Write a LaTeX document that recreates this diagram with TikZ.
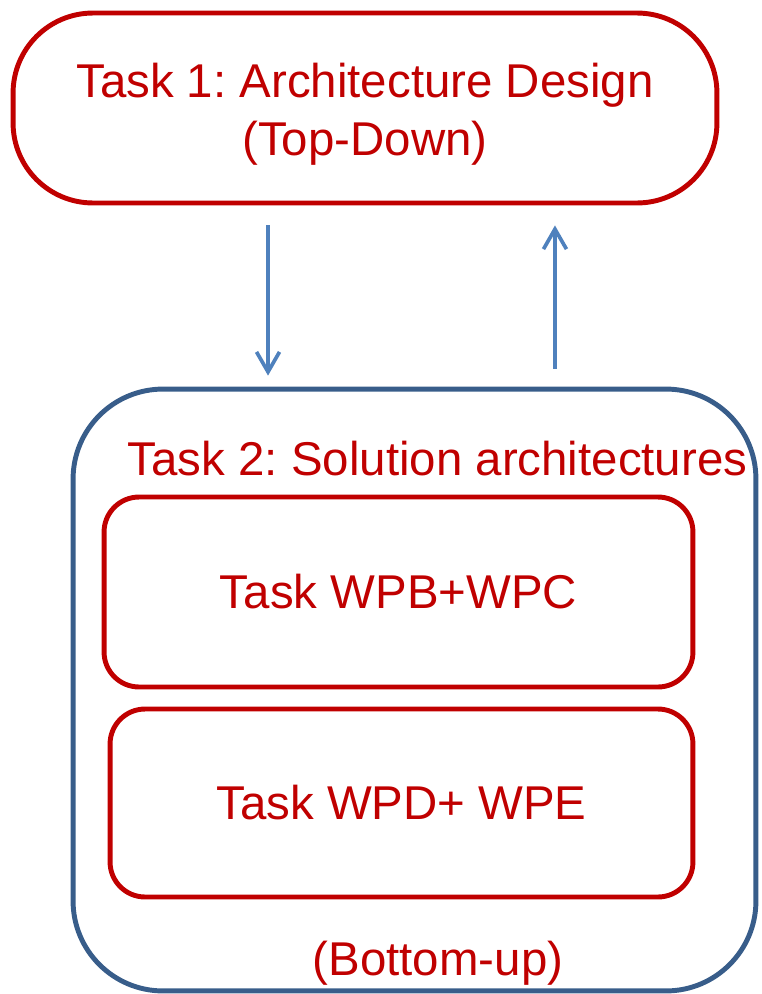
\documentclass[tikz,border=0pt]{standalone}
\usepackage{fontspec}
\setmainfont{Liberation Sans}
\frenchspacing
\usetikzlibrary{shapes,arrows.meta}
\definecolor{taskred}{RGB}{192,0,0}
\definecolor{flowblue}{RGB}{79,129,189}
\definecolor{boxblue}{RGB}{56,93,138}
\tikzstyle{flow} = [draw=flowblue, line width=2.1pt, -{Straight Barb[length=0.4cm,width=0.46cm]}]

\begin{document}
\begin{tikzpicture}
  [x=0.02cm,y=-0.02cm,every node/.style={text=taskred,font=\fontsize{27}{33}\selectfont}]
  \tikzstyle{taskbox} = [draw=taskred, line width=2.8pt, rectangle, align=center]
  \useasboundingbox (0,0) rectangle (761,994);

  % top-down task
  \node (top) [taskbox, rounded corners=1.6cm, minimum width=14.08cm, minimum height=3.8cm]
    at (365,108) {};
  \node (t1) [align=center, anchor=base] at (365,155) {Task 1: Architecture Design\\(Top-Down)};

  % bottom-up container
  \node (outer) [draw=boxblue, line width=2.8pt, rectangle, rounded corners=1.8cm,
    minimum width=13.66cm, minimum height=12.04cm] at (414.5,690) {};
  \node (t2) [anchor=base] at (437.5,475) {Task 2: Solution architectures};
  \node (wpbc) [taskbox, rounded corners=0.7cm, minimum width=11.78cm, minimum height=3.8cm]
    at (398.5,592) {Task WPB+WPC};
  \node (wpde) [taskbox, rounded corners=0.7cm, minimum width=11.66cm, minimum height=3.76cm]
    at (401.5,803) {Task WPD+ WPE};
  \node (bu) [anchor=base] at (438,975) {(Bottom-up)};

  \path [flow, shorten <=0.4cm, shorten >=0.22cm]
    ([xshift=-1.94cm]top.south) -- ([xshift=-1.94cm]top.south |- outer.north);
  \path [flow, shorten <=0.36cm, shorten >=0.4cm]
    ([xshift=3.8cm]top.south |- outer.north) -- ([xshift=3.8cm]top.south);

\end{tikzpicture}
\end{document}
